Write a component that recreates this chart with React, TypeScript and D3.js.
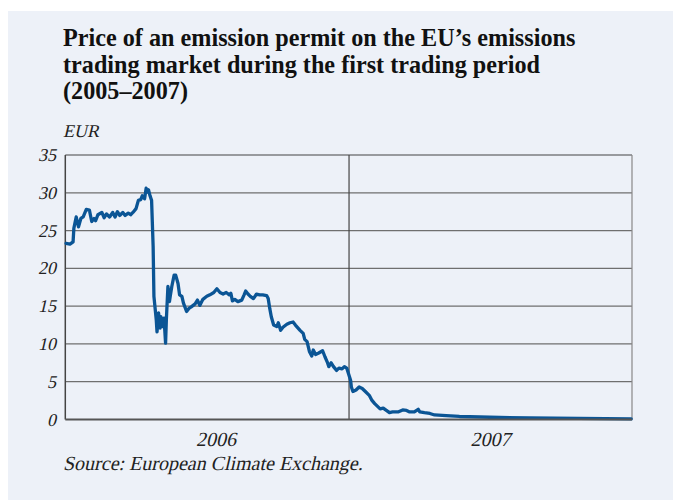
import React from "react";
import * as d3 from "d3";

// price of EUA (EUR)
const dates = [
  "2006-01-02", "2006-01-07", "2006-01-11", "2006-01-12", "2006-01-15", "2006-01-18", "2006-01-21", "2006-01-24",
  "2006-01-28", "2006-02-01", "2006-02-04", "2006-02-07", "2006-02-09", "2006-02-12", "2006-02-17", "2006-02-20",
  "2006-02-23", "2006-02-27", "2006-03-03", "2006-03-06", "2006-03-09", "2006-03-12", "2006-03-16", "2006-03-19",
  "2006-03-23", "2006-03-26", "2006-03-29", "2006-04-02", "2006-04-05", "2006-04-08", "2006-04-10", "2006-04-13",
  "2006-04-15", "2006-04-16", "2006-04-18", "2006-04-20", "2006-04-22", "2006-04-24", "2006-04-25", "2006-04-28",
  "2006-04-29", "2006-05-01", "2006-05-03", "2006-05-04", "2006-05-06", "2006-05-08", "2006-05-10", "2006-05-11",
  "2006-05-13", "2006-05-15", "2006-05-16", "2006-05-18", "2006-05-21", "2006-05-23", "2006-05-26", "2006-05-28",
  "2006-05-31", "2006-06-02", "2006-06-06", "2006-06-09", "2006-06-12", "2006-06-17", "2006-06-20", "2006-06-23",
  "2006-06-27", "2006-07-02", "2006-07-06", "2006-07-11", "2006-07-15", "2006-07-19", "2006-07-23", "2006-07-27",
  "2006-07-31", "2006-08-02", "2006-08-04", "2006-08-07", "2006-08-11", "2006-08-16", "2006-08-19", "2006-08-21",
  "2006-08-24", "2006-08-27", "2006-08-31", "2006-09-04", "2006-09-08", "2006-09-12", "2006-09-17", "2006-09-19",
  "2006-09-21", "2006-09-23", "2006-09-26", "2006-09-30", "2006-10-02", "2006-10-05", "2006-10-08", "2006-10-13",
  "2006-10-17", "2006-10-21", "2006-10-24", "2006-10-30", "2006-11-03", "2006-11-05", "2006-11-08", "2006-11-11",
  "2006-11-14", "2006-11-16", "2006-11-19", "2006-11-23", "2006-11-28", "2006-12-01", "2006-12-04", "2006-12-06",
  "2006-12-09", "2006-12-12", "2006-12-16", "2006-12-19", "2006-12-23", "2006-12-26", "2006-12-29",
  "2007-01-03", "2007-01-04", "2007-01-06", "2007-01-10", "2007-01-14", "2007-01-18", "2007-01-22", "2007-01-27",
  "2007-01-30", "2007-02-03", "2007-02-07", "2007-02-10", "2007-02-14", "2007-02-18", "2007-02-22", "2007-02-26",
  "2007-03-05", "2007-03-11", "2007-03-16", "2007-03-20", "2007-03-26", "2007-03-31", "2007-04-02", "2007-04-08",
  "2007-04-15", "2007-04-21", "2007-05-06", "2007-05-23", "2007-07-01", "2007-08-21", "2007-10-24", "2007-12-30",
];
const prices = [
  23.3, 23.2, 23.5, 25.3, 26.8, 25.5, 26.6, 26.8,
  27.8, 27.7, 26.2, 26.6, 26.3, 27.1, 27.4, 26.7,
  27.2, 26.8, 27.4, 26.8, 27.5, 27.0, 27.4, 27.0,
  27.3, 27.1, 27.4, 27.9, 29.0, 29.1, 29.6, 29.2,
  30.6, 30.1, 30.4, 29.6, 29.0, 22.9, 16.3, 13.2,
  11.6, 14.1, 12.1, 13.6, 12.3, 13.4, 10.1, 13.2,
  17.6, 15.6, 16.3, 17.6, 19.1, 19.1, 18.0, 16.5,
  16.3, 15.4, 14.3, 14.7, 14.9, 15.3, 15.8, 15.1,
  15.9, 16.3, 16.5, 16.8, 17.3, 16.8, 16.6, 16.8,
  16.5, 16.7, 15.7, 15.9, 15.6, 15.8, 16.5, 17.0,
  16.6, 16.3, 16.0, 16.6, 16.5, 16.5, 16.4, 16.0,
  14.7, 13.6, 12.5, 12.3, 12.8, 11.8, 12.2, 12.6,
  12.8, 12.9, 12.5, 11.8, 11.4, 10.6, 10.3, 9.0,
  8.4, 9.2, 8.6, 8.8, 9.1, 8.3, 7.6, 7.0,
  7.5, 7.0, 6.5, 6.8, 6.7, 7.0, 6.8,
  5.2, 4.3, 3.7, 3.9, 4.3, 4.1, 3.7, 3.2,
  2.6, 2.1, 1.7, 1.4, 1.5, 1.2, 0.9, 1.0,
  1.0, 1.26, 1.2, 1.0, 1.0, 1.35, 1.0, 0.9,
  0.8, 0.6, 0.5, 0.4, 0.3, 0.2, 0.15, 0.08,
];

const yTicks = [0, 5, 10, 15, 20, 25, 30, 35];
const yearLabels = ["2006", "2007"];
const yearLabelDates = ["2006-07-14", "2007-07-02"];
const titleLines = [
  "Price of an emission permit on the EU\u2019s emissions",
  "trading market during the first trading period",
  "(2005\u20132007)",
];

const W = 673;
const H = 500;
const margin = { left: 65.3, right: 41, top: 155, bottom: 80.5 };
const serif = "'Liberation Serif', 'Times New Roman', serif";
const lineColor = "#0b5595";

// fake italic: skew regular serif glyphs around the text anchor
const Italic = ({ x, y, anchor = "start", size = 17, children }) => (
  <text
    transform={`translate(${x},${y}) skewX(-13)`}
    textAnchor={anchor}
    fontFamily={serif}
    fontSize={size}
    fill="#222"
  >
    {children}
  </text>
);

const App = () => {
  const parse = d3.utcParse("%Y-%m-%d");
  const data = dates.map((d, i) => ({ date: parse(d) as Date, value: prices[i] }));

  const x = d3
    .scaleUtc()
    .domain([new Date(Date.UTC(2006, 0, 1)), new Date(Date.UTC(2007, 11, 31))])
    .range([margin.left, W - margin.right]);
  const y = d3.scaleLinear().domain([0, 35]).range([H - margin.bottom, margin.top]);

  const line = d3
    .line<{ date: Date; value: number }>()
    .x((d) => x(d.date))
    .y((d) => y(d.value));

  const x0 = x.range()[0];
  const x1 = x.range()[1];
  const yearBreak = x(new Date(Date.UTC(2007, 0, 1)));

  return (
    <svg
      width={W}
      height={H}
      style={{ position: "absolute", left: 0, top: 0, display: "block" }}
    >
      <rect x={0} y={0} width={W} height={H} fill="#ffffff" />
      <rect x={8} y={11} width={W - 8} height={H - 11} fill="#edf1f8" />

      {titleLines.map((t, i) => (
        <text
          key={i}
          x={63}
          y={46 + i * 26.5}
          fontFamily={serif}
          fontWeight="bold"
          fontSize={24.2}
          fill="#111"
        >
          {t}
        </text>
      ))}

      <Italic x={63} y={137} size={18}>EUR</Italic>

      {/* grid lines */}
      {yTicks.slice(1, -1).map((t) => (
        <line key={t} x1={x0} x2={x1} y1={y(t)} y2={y(t)} stroke="#6f6f6f" strokeWidth={1.3} />
      ))}
      <line x1={x0} x2={x1} y1={y(35)} y2={y(35)} stroke="#444" strokeWidth={1.2} />
      <line x1={x1} x2={x1} y1={y(35)} y2={y(0)} stroke="#888" strokeWidth={1.2} />
      <line x1={yearBreak} x2={yearBreak} y1={y(35)} y2={y(0)} stroke="#444" strokeWidth={1.2} />
      <line x1={x0} x2={x0} y1={y(35)} y2={y(0)} stroke="#444" strokeWidth={1.5} />

      <path
        d={line(data) || ""}
        fill="none"
        stroke={lineColor}
        strokeWidth={3.3}
        strokeLinejoin="round"
        strokeLinecap="round"
      />

      <line x1={x0} x2={x1} y1={y(0)} y2={y(0)} stroke="#555" strokeWidth={2} />

      {yTicks.map((t) => (
        <Italic key={t} x={56} y={y(t) + 6} anchor="end" size={18}>
          {t}
        </Italic>
      ))}

      {yearLabels.map((yr, i) => (
        <Italic key={yr} x={x(parse(yearLabelDates[i]) as Date)} y={446} anchor="middle" size={20}>
          {yr}
        </Italic>
      ))}

      <Italic x={63} y={470} size={20}>Source: European Climate Exchange.</Italic>
    </svg>
  );
};

export default App;
